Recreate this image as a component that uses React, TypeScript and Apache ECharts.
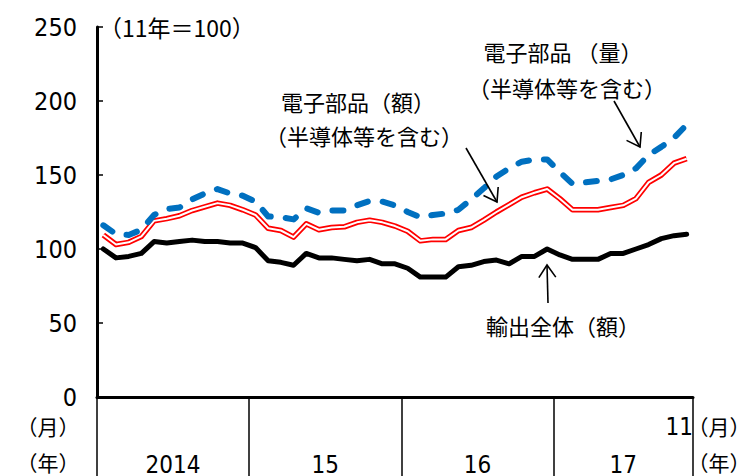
import React, { useEffect, useRef } from "react";
import * as echarts from "echarts";

// Categories: monthly, Jan 2014 – Nov 2017
const months: string[] = [
  "2014-1", "2014-2", "2014-3", "2014-4", "2014-5", "2014-6", "2014-7", "2014-8", "2014-9", "2014-10", "2014-11", "2014-12",
  "2015-1", "2015-2", "2015-3", "2015-4", "2015-5", "2015-6", "2015-7", "2015-8", "2015-9", "2015-10", "2015-11", "2015-12",
  "2016-1", "2016-2", "2016-3", "2016-4", "2016-5", "2016-6", "2016-7", "2016-8", "2016-9", "2016-10", "2016-11", "2016-12",
  "2017-1", "2017-2", "2017-3", "2017-4", "2017-5", "2017-6", "2017-7", "2017-8", "2017-9", "2017-10", "2017-11",
];
const yearKeys = ["2014", "2015", "2016", "2017"];
const yearLabels = ["2014", "15", "16", "17"];
const lastMonthLabel = "11";
const yTicks = [0, 50, 100, 150, 200, 250];

// 輸出全体（額）
const exportsTotal = [
  100, 94, 95, 97, 105, 104, 105, 106, 105, 105, 104, 104,
  101, 92, 91, 89, 97, 94, 94, 93, 92, 93, 90, 90,
  87, 81, 81, 81, 88, 89, 91.5, 92.5, 90, 95, 95, 100,
  96, 93, 93, 93, 97, 97, 100, 103, 107, 109, 110,
];
// 電子部品（額）
const electronicsValue = [
  109.5, 103, 104.5, 108.5, 119, 120.5, 122.5, 126, 128.5, 131, 129.5, 126.5,
  123, 114, 112.5, 108, 117, 113, 114.5, 115, 118, 119.5, 118, 115.5,
  112, 105.5, 106.5, 106.5, 112.5, 114.5, 119.5, 125, 130, 135, 138, 140.5,
  134, 126.5, 126.5, 126.5, 128, 129.5, 134, 145, 150, 158, 161,
];
// 電子部品（量）
const electronicsVolume = [
  116, 110, 109.5, 113, 123, 127, 128, 133.5, 137.5, 140.5, 137.5, 136,
  132, 122, 121.5, 120, 127.5, 124.5, 126, 126, 129.5, 132.5, 132, 129.5,
  125, 121.5, 123, 124, 126.5, 133.5, 141, 149, 154.5, 159, 160.5, 160.5,
  152, 144, 145, 146, 147, 150, 154.5, 163.5, 169, 175, 184,
];

const NARROW = "'Liberation Sans Narrow', 'Arial Narrow', 'DejaVu Sans Condensed', 'Noto Sans CJK JP', sans-serif";
const JP = "'Noto Sans CJK JP', 'Noto Sans CJK SC', sans-serif";

function arrow(x1: number, y1: number, x2: number, y2: number, len = 15, ang = 0.6) {
  const a = Math.atan2(y1 - y2, x1 - x2);
  const p1 = [x2 + len * Math.cos(a + ang), y2 + len * Math.sin(a + ang)];
  const p2 = [x2 + len * Math.cos(a - ang), y2 + len * Math.sin(a - ang)];
  return [
    { type: "line", shape: { x1, y1, x2, y2 }, style: { stroke: "#000", lineWidth: 1.6 }, z: 20 },
    { type: "polyline", shape: { points: [p1, [x2, y2], p2] }, style: { stroke: "#000", lineWidth: 1.6, fill: null }, z: 20 },
  ];
}

function txt(text: string, x: number, y: number, fontSize: number, align = "center", family = JP) {
  return {
    type: "text",
    x,
    y,
    z: 20,
    style: { text, fill: "#000", fontSize, fontFamily: family, align, verticalAlign: "middle" },
  };
}

export default function App() {
  const ref = useRef<HTMLDivElement>(null);
  useEffect(() => {
    if (!ref.current) return;
    const chart = echarts.init(ref.current, null, { renderer: "svg" });

    // year boundaries derived from the month categories
    const yearStart = yearKeys.map((y) => months.findIndex((m) => m.startsWith(y + "-")));
    const yearEnd = yearKeys.map((y, i) => (i < yearKeys.length - 1 ? yearStart[i + 1] : months.length));
    const yearCenters = yearStart.map((s, i) => (s + yearEnd[i]) / 2);
    const boundaries = [...yearStart, months.length];

    const lineBase = { type: "line", symbol: "none", xAxisIndex: 0, yAxisIndex: 0, silent: true };

    chart.setOption({
      animation: false,
      backgroundColor: "#fff",
      grid: { left: 97, right: 53, top: 27, bottom: 79, containLabel: false, outerBoundsMode: "none" },
      xAxis: [
        {
          type: "category",
          data: months,
          boundaryGap: true,
          position: "bottom",
          axisLine: { onZero: false, lineStyle: { color: "#000", width: 3 } },
          axisTick: { show: false },
          axisLabel: { show: false },
          splitLine: { show: false },
        },
        {
          type: "value",
          min: 0,
          max: months.length,
          position: "bottom",
          axisLine: { show: false, onZero: false },
          axisTick: { show: true, customValues: boundaries, length: 80, lineStyle: { color: "#000", width: 1.5 } },
          axisLabel: {
            customValues: yearCenters,
            formatter: (v: number) => {
              const i = yearCenters.findIndex((c) => Math.abs(c - v) < 0.01);
              return i >= 0 ? yearLabels[i] : "";
            },
            margin: 56,
            fontSize: 24,
            fontFamily: NARROW,
            color: "#000",
            verticalAlign: "top",
          },
          splitLine: { show: false },
        },
        {
          type: "value",
          min: 0,
          max: months.length,
          position: "bottom",
          axisLine: { show: false, onZero: false },
          axisTick: { show: false },
          axisLabel: {
            customValues: [months.length],
            formatter: () => lastMonthLabel,
            align: "right",
            margin: 18,
            fontSize: 24,
            fontFamily: NARROW,
            color: "#000",
            verticalAlign: "top",
          },
          splitLine: { show: false },
        },
      ],
      yAxis: {
        type: "value",
        min: yTicks[0],
        max: yTicks[yTicks.length - 1],
        interval: yTicks[1] - yTicks[0],
        axisLine: { show: true, lineStyle: { color: "#000", width: 3 } },
        axisTick: { show: true, inside: true, length: 6, lineStyle: { color: "#000", width: 1.5 } },
        axisLabel: { fontSize: 25, fontFamily: NARROW, color: "#000", margin: 20 },
        splitLine: { show: false },
      },
      series: [
        { ...lineBase, name: "輸出全体（額）", data: exportsTotal, z: 3, lineStyle: { color: "#000", width: 5, cap: "round", join: "round" } },
        { ...lineBase, name: "電子部品（額）", data: electronicsValue, z: 4, lineStyle: { color: "#FF0000", width: 5.5, join: "round" } },
        { ...lineBase, name: "電子部品（額）内側", data: electronicsValue, z: 5, lineStyle: { color: "#FFFFFF", width: 2, join: "round" } },
        { ...lineBase, name: "電子部品（量）", data: electronicsVolume, z: 6, lineStyle: { color: "#0070C0", width: 6, type: [11, 15], cap: "round", join: "round" } },
      ],
      graphic: [
        txt("（11年＝100）", 99, 27, 23, "left"),
        txt("（月）", 48, 426, 21),
        txt("（年）", 48, 462, 21),
        txt("（月）", 719, 426, 21),
        txt("（年）", 719, 462, 21),
        txt("電子部品（額）", 358, 101, 22),
        txt("（半導体等を含む）", 364, 135, 22),
        txt("電子部品 （量）", 563, 51, 22),
        txt("（半導体等を含む）", 567, 87, 22),
        txt("輸出全体（額）", 563, 325, 22),
        ...arrow(466, 148, 497, 202),
        ...arrow(614, 101, 640, 147),
        ...arrow(548, 303, 547, 265),
      ],
    });
    return () => chart.dispose();
  }, []);
  return <div ref={ref} style={{ position: "fixed", left: 0, top: 0, width: 746, height: 476, background: "#fff" }} />;
}
